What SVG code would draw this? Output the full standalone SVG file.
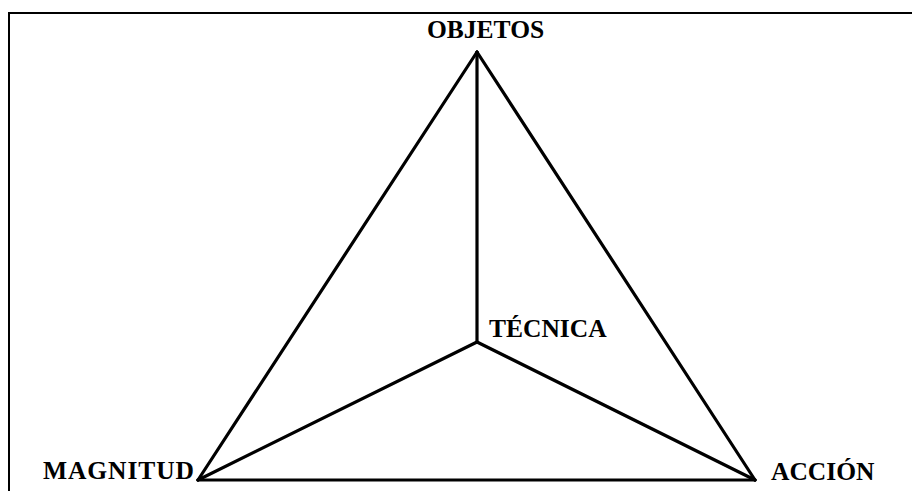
<svg xmlns="http://www.w3.org/2000/svg" width="912" height="491" viewBox="0 0 912 491">
<style>
.lbl{font-family:"Liberation Serif","Times New Roman",serif;font-weight:bold;font-size:25.5px;fill:#000}
.edge{stroke:#000;stroke-width:3.2;fill:none;stroke-linecap:round;stroke-linejoin:round}
.frame{stroke:#000;stroke-width:2;fill:none}
</style>
<rect width="912" height="491" fill="#fff"/>
<path class="frame" d="M9,492 V13 H913"/>
<g id="connectors">
<line class="edge" x1="477" y1="52" x2="198" y2="480"/>
<line class="edge" x1="477" y1="52" x2="755" y2="480"/>
<line class="edge" x1="198" y1="480" x2="755" y2="480"/>
<line class="edge" x1="477" y1="52" x2="477" y2="342"/>
<line class="edge" x1="477" y1="342" x2="198" y2="480"/>
<line class="edge" x1="477" y1="342" x2="755" y2="480"/>
</g>
<g id="objetos"><text class="lbl" x="427" y="38">OBJETOS</text></g>
<g id="magnitud"><text class="lbl" x="43" y="479" textLength="151" lengthAdjust="spacing">MAGNITUD</text></g>
<g id="accion"><text class="lbl" x="771" y="480">ACCIÓN</text></g>
<g id="tecnica"><text class="lbl" x="489" y="337">TÉCNICA</text></g>
</svg>
